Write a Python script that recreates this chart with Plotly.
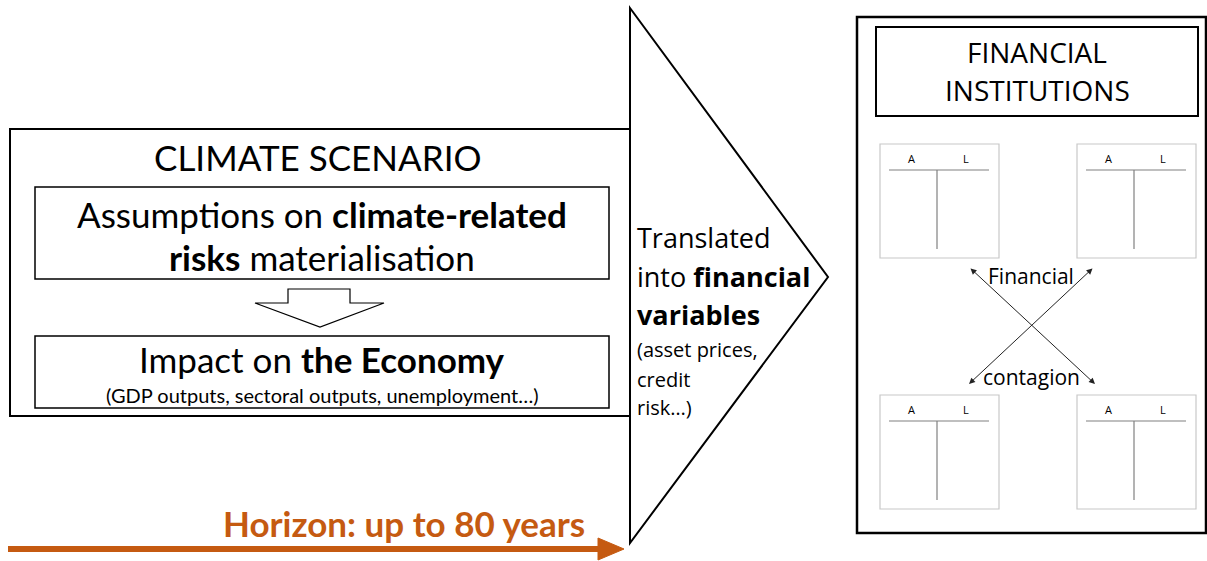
import plotly.graph_objects as go

# ---- text content ----
climate_title = "CLIMATE SCENARIO"
assumption_lines = ["Assumptions on <b>climate-related</b>", "<b>risks</b> materialisation"]
economy_title = "Impact on <b>the Economy</b>"
economy_sub = "(GDP outputs, sectoral outputs, unemployment…)"
translate_lines = ["Translated", "into <b>financial</b>", "<b>variables</b>"]
translate_sub = ["(asset prices,", "credit", "risk…)"]
fi_lines = ["FINANCIAL", "INSTITUTIONS"]
account_labels = ["A", "L"]
contagion_labels = ["Financial", "contagion"]
horizon_label = "Horizon: up to 80 years"

W, H = 1207, 561
CAL = "Lato, Open Sans, sans-serif"
SEG = "Open Sans, sans-serif"
ORANGE = "#C55A11"

fig = go.Figure()
shapes = []
ann = []

def rect(x0, y0, x1, y1, color="black", width=1.5, fill=None):
    shapes.append(dict(type="rect", xref="x", yref="y", x0=x0, y0=y0, x1=x1, y1=y1,
                       line=dict(color=color, width=width), fillcolor=fill or "rgba(0,0,0,0)",
                       layer="above"))

def line(x0, y0, x1, y1, color="black", width=1):
    shapes.append(dict(type="line", xref="x", yref="y", x0=x0, y0=y0, x1=x1, y1=y1,
                       line=dict(color=color, width=width), layer="above"))

def path(d, color="black", width=1.5, fill="white"):
    shapes.append(dict(type="path", xref="x", yref="y", path=d,
                       line=dict(color=color, width=width), fillcolor=fill, layer="above"))

def text(x, y, s, size, font=CAL, color="black", xanchor="center"):
    ann.append(dict(x=x, y=y, xref="x", yref="y", text=s, showarrow=False,
                    xanchor=xanchor, yanchor="middle",
                    font=dict(family=font, size=size, color=color)))

# ---- left climate scenario box ----
rect(10, 129, 630, 416, width=2)
text(317, 157, climate_title, 35)
rect(35, 187, 609, 279, width=1.5)
text(322, 214, assumption_lines[0], 35)
text(322, 257, assumption_lines[1], 35)
# hollow down arrow
path("M 288 289 L 350 289 L 350 303 L 384 303 L 320 327 L 255 303 L 288 303 Z", width=1.2)
rect(35, 336, 609, 408, width=1.5)
text(322, 359, economy_title, 35)
text(322, 395, economy_sub, 20)

# ---- big triangle ----
path("M 630 8 L 828 277 L 630 543 Z", width=2)
ty = [237, 276, 314]
for s, y in zip(translate_lines, ty):
    text(635, y, s, 27, font=SEG, xanchor="left")
sy = [349, 379, 407]
for s, y in zip(translate_sub, sy):
    text(635, y, s, 20, font=SEG, xanchor="left")

# ---- right financial institutions box ----
rect(857, 17, 1206, 533, width=2.5)
rect(876, 27, 1198, 116, width=2)
text(1037, 52, fi_lines[0], 28, font=SEG)
text(1037, 90, fi_lines[1], 28, font=SEG)

# T-accounts
for bx, by in [(880, 144), (1077, 144), (880, 395), (1077, 395)]:
    rect(bx, by, bx + 119, by + 114, color="#C8C8C8", width=1.2)
    line(bx + 9, by + 26, bx + 109, by + 26, color="#808080", width=1.2)
    line(bx + 57, by + 26, bx + 57, by + 105, color="#808080", width=1.2)
    text(bx + 31, by + 14, account_labels[0], 11, font=SEG)
    text(bx + 86, by + 14, account_labels[1], 11, font=SEG)

# crossing double-headed arrows
for (x0, y0, x1, y1) in [(969, 267, 1095, 384), (1094, 267, 969, 384)]:
    ann.append(dict(x=x1, y=y1, ax=x0, ay=y0, xref="x", yref="y", axref="x", ayref="y",
                    text="", showarrow=True, arrowhead=2, startarrowhead=2,
                    arrowside="end+start", arrowsize=1.2, startarrowsize=1.2,
                    arrowwidth=1, arrowcolor="#222"))
text(1031, 276, contagion_labels[0], 21, font=SEG)
text(1031, 377, contagion_labels[1], 21, font=SEG)

# ---- horizon arrow ----
line(8, 549, 602, 549, color=ORANGE, width=6)
path("M 598 538 L 624 549 L 598 560 Z", color=ORANGE, width=1, fill=ORANGE)
text(587, 523, "<b>" + horizon_label + "</b>", 35, color=ORANGE, xanchor="right")

fig.update_layout(
    width=W, height=H, margin=dict(l=0, r=0, t=0, b=0),
    paper_bgcolor="white", plot_bgcolor="white",
    xaxis=dict(range=[0, W], visible=False, fixedrange=True),
    yaxis=dict(range=[H, 0], visible=False, fixedrange=True),
    shapes=shapes, annotations=ann, showlegend=False,
)
fig.write_html("out.html", config={"displayModeBar": False},
               post_script="document.body.style.margin='0';document.body.style.overflow='hidden';")
